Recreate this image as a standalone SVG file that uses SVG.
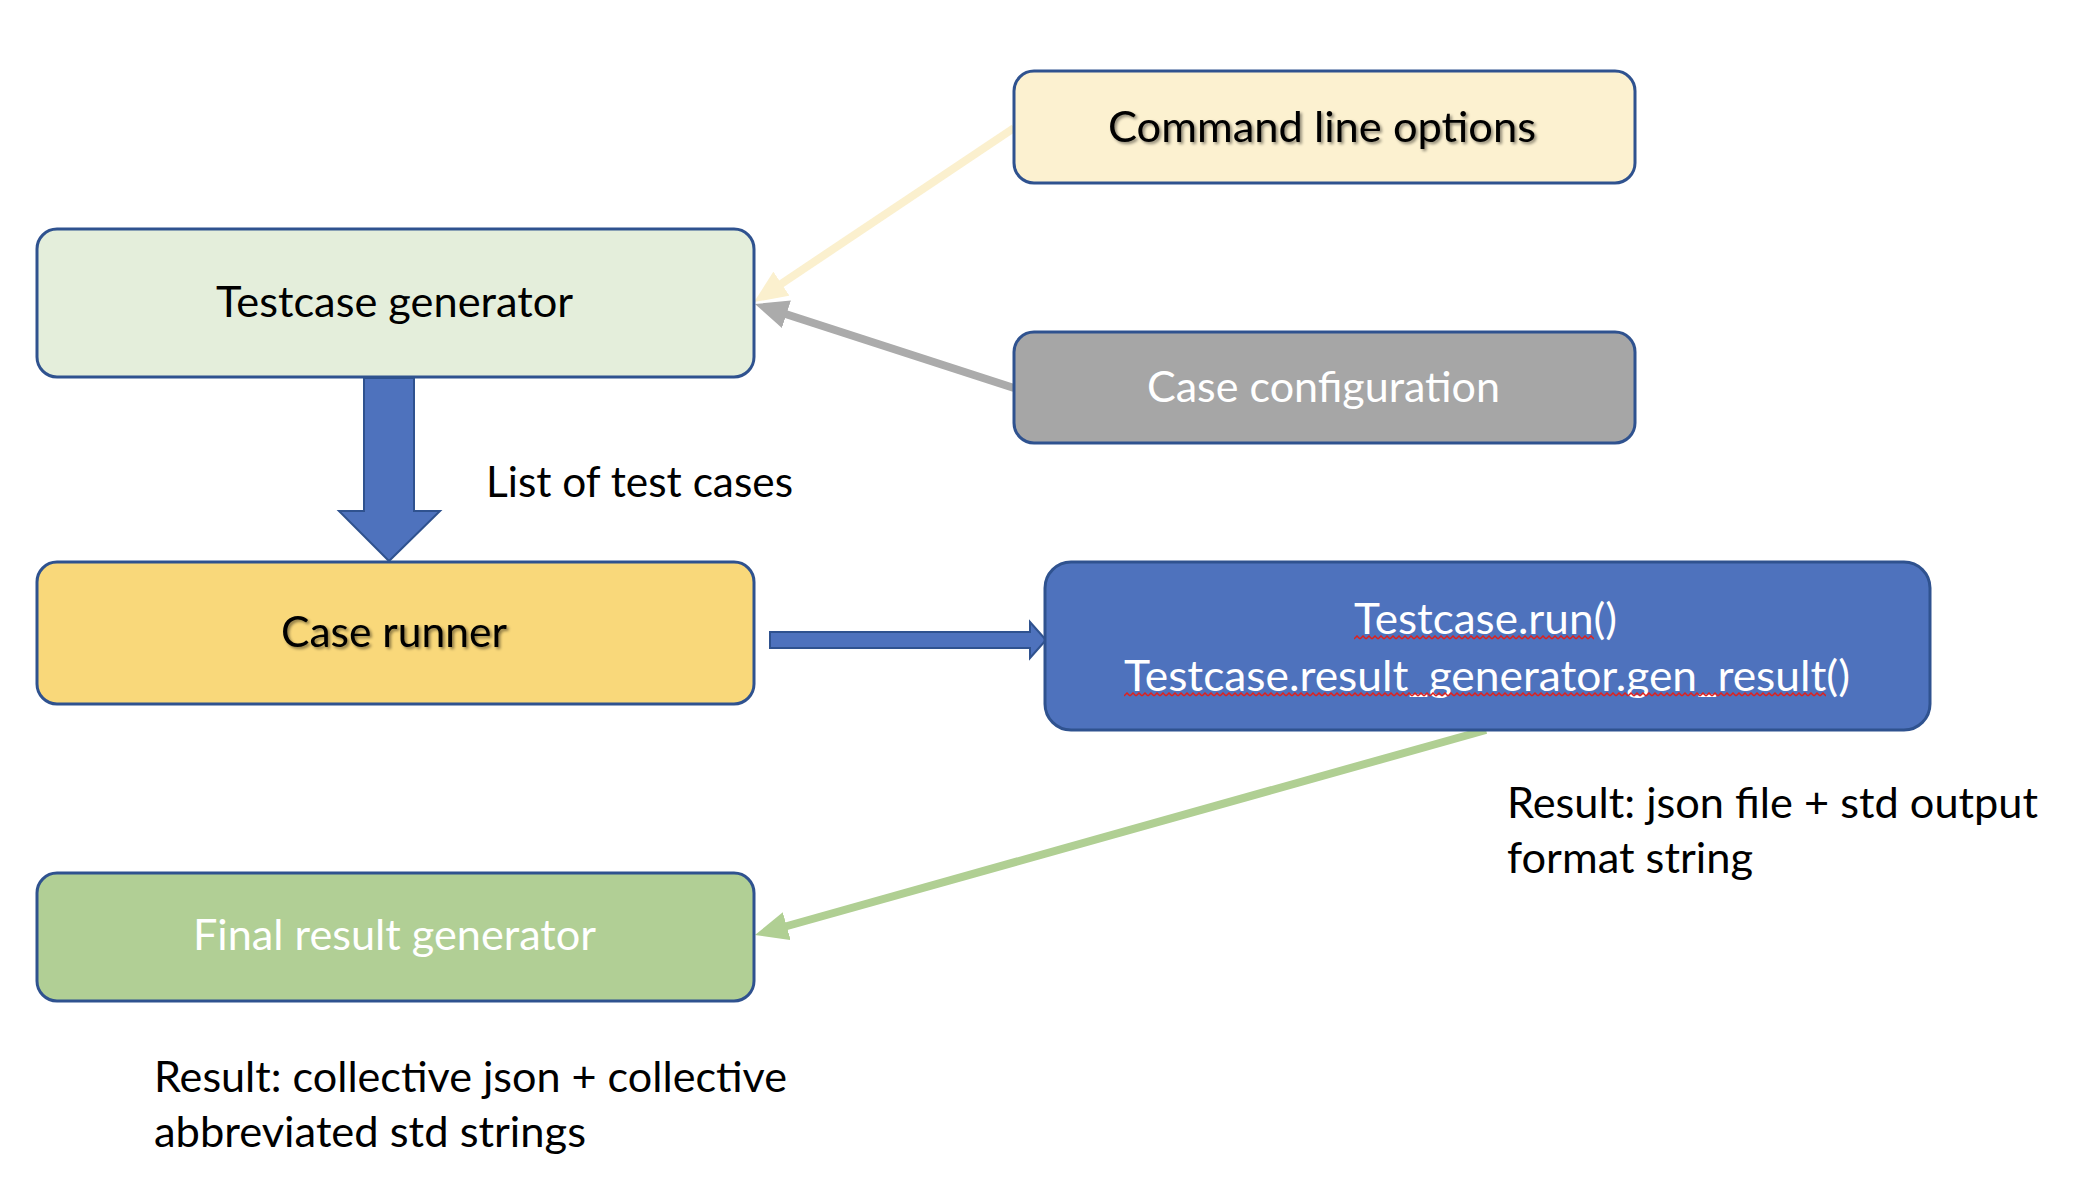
<svg xmlns="http://www.w3.org/2000/svg" width="2074" height="1180" viewBox="0 0 2074 1180">
<style>
  .node { stroke: #2F528F; stroke-width: 3; }
  .t { font-family: "Lato", "Open Sans", sans-serif; font-size: 42px; fill: #000; }
  .w { fill: #fff; }
  .block { fill: #4E72BD; stroke: #2F528F; stroke-width: 2; }
</style>
<defs>
  <filter id="shadow" x="-10%" y="-30%" width="120%" height="160%">
    <feDropShadow dx="2" dy="2" stdDeviation="1.5" flood-color="#000" flood-opacity="0.45"/>
  </filter>
  <pattern id="zig1" x="1354" y="635" width="6" height="5" patternUnits="userSpaceOnUse">
    <path d="M0,4 L3,1 L6,4" fill="none" stroke="#E0201B" stroke-width="1.5"/>
  </pattern>
  <pattern id="zig2" x="1124" y="692" width="6" height="5" patternUnits="userSpaceOnUse">
    <path d="M0,4 L3,1 L6,4" fill="none" stroke="#E0201B" stroke-width="1.5"/>
  </pattern>
  <marker id="ahY" viewBox="0 0 33 29" refX="18" refY="14.5" markerWidth="33" markerHeight="29" markerUnits="userSpaceOnUse" orient="auto">
    <path d="M0,0 L33,14.5 L0,29 z" fill="#FBF0CE"/>
  </marker>
  <marker id="ahG" viewBox="0 0 33 29" refX="18" refY="14.5" markerWidth="33" markerHeight="29" markerUnits="userSpaceOnUse" orient="auto">
    <path d="M0,0 L33,14.5 L0,29 z" fill="#ABABAB"/>
  </marker>
  <marker id="ahGr" viewBox="0 0 33 29" refX="18" refY="14.5" markerWidth="33" markerHeight="29" markerUnits="userSpaceOnUse" orient="auto">
    <path d="M0,0 L33,14.5 L0,29 z" fill="#B0CF93"/>
  </marker>
</defs>
<rect width="2074" height="1180" fill="#fff"/>

<g id="connectors">
  <line x1="1014" y1="128" x2="766.5" y2="293.7" stroke="#FBF0CE" stroke-width="8" marker-end="url(#ahY)"/>
  <line x1="1014" y1="388" x2="769.3" y2="308.7" stroke="#ABABAB" stroke-width="8" marker-end="url(#ahG)"/>
  <line x1="1486" y1="730" x2="769.4" y2="931" stroke="#B0CF93" stroke-width="8" marker-end="url(#ahGr)"/>
  <polygon class="block" points="364,378 414,378 414,511 440,511 389,561 339,511 364,511"/>
  <polygon class="block" points="770,632 1030,632 1030,622 1046,640 1030,658 1030,648 770,648"/>
  <text class="t" x="486" y="497" textLength="307" lengthAdjust="spacingAndGlyphs">List of test cases</text>
</g>

<g id="testcase-generator">
  <rect class="node" x="37" y="229" width="717" height="148" rx="20" fill="#E4EEDB"/>
  <text class="t" x="216" y="317" textLength="357" lengthAdjust="spacingAndGlyphs">Testcase generator</text>
</g>

<g id="command-line-options">
  <rect class="node" x="1014" y="71" width="621" height="112" rx="20" fill="#FCF1D0"/>
  <text class="t" x="1108" y="142" textLength="428" lengthAdjust="spacingAndGlyphs" filter="url(#shadow)">Command line options</text>
</g>

<g id="case-configuration">
  <rect class="node" x="1014" y="332" width="621" height="111" rx="20" fill="#A6A6A6"/>
  <text class="t w" x="1147" y="402" textLength="353" lengthAdjust="spacingAndGlyphs">Case configuration</text>
</g>

<g id="case-runner">
  <rect class="node" x="37" y="562" width="717" height="142" rx="20" fill="#F9D87A"/>
  <text class="t" x="281" y="647" textLength="226" lengthAdjust="spacingAndGlyphs" filter="url(#shadow)">Case runner</text>
</g>

<g id="testcase-run">
  <rect class="node" x="1045" y="562" width="885" height="168" rx="26" fill="#4E72BD"/>
  <text class="t w" x="1354" y="634" textLength="263" lengthAdjust="spacingAndGlyphs">Testcase.run()</text>
  <text class="t w" x="1124" y="691" textLength="726" lengthAdjust="spacingAndGlyphs">Testcase.result_generator.gen_result()</text>
  <rect x="1354" y="635" width="240" height="5" fill="url(#zig1)"/>
  <rect x="1124" y="692" width="702" height="5" fill="url(#zig2)"/>
</g>

<g id="result-label-1">
  <text class="t" x="1507" y="818" textLength="531" lengthAdjust="spacingAndGlyphs">Result: json file + std output</text>
  <text class="t" x="1507" y="873" textLength="246" lengthAdjust="spacingAndGlyphs">format string</text>
</g>

<g id="final-result-generator">
  <rect class="node" x="37" y="873" width="717" height="128" rx="20" fill="#B1CF95"/>
  <text class="t w" x="193" y="950" textLength="403" lengthAdjust="spacingAndGlyphs">Final result generator</text>
</g>

<g id="result-label-2">
  <text class="t" x="154" y="1092" textLength="633" lengthAdjust="spacingAndGlyphs">Result: collective json + collective</text>
  <text class="t" x="154" y="1147" textLength="432" lengthAdjust="spacingAndGlyphs">abbreviated std strings</text>
</g>
</svg>
